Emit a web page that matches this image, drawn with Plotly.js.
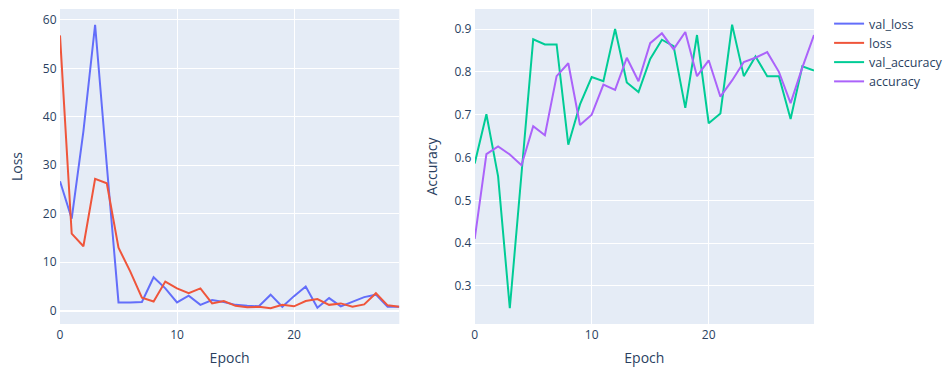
<!DOCTYPE html>
<html>
<head>
<meta charset="utf-8">
<script src="https://cdn.plot.ly/plotly-3.0.1.min.js"></script>
<style>html,body{margin:0;padding:0;background:#fff;}#chart{width:946px;height:367px;}</style>
</head>
<body>
<div id="chart"></div>
<script>
const epochs = Array.from({length: 30}, (_, i) => i);
const valLoss = [26.7, 19.0, 37, 59.0, 30, 1.7, 1.7, 1.8, 6.9, 4.6, 1.7, 3.1, 1.2, 2.2, 1.8, 1.2, 1.0, 0.9, 3.3, 0.8, 3.0, 5.0, 0.6, 2.6, 0.9, 1.8, 2.8, 3.3, 0.8, 0.8];
const loss = [56.8, 15.9, 13.3, 27.2, 26.3, 13.0, 8.1, 2.7, 1.9, 6.0, 4.6, 3.6, 4.6, 1.5, 2.0, 1.0, 0.7, 0.8, 0.5, 1.2, 0.9, 2.0, 2.4, 1.2, 1.5, 0.8, 1.3, 3.6, 1.1, 0.8];
const valAccuracy = [0.586, 0.701, 0.556, 0.248, 0.562, 0.876, 0.864, 0.864, 0.630, 0.724, 0.788, 0.778, 0.900, 0.775, 0.753, 0.830, 0.875, 0.860, 0.716, 0.886, 0.680, 0.703, 0.910, 0.790, 0.836, 0.790, 0.790, 0.690, 0.813, 0.803];
const accuracy = [0.410, 0.608, 0.626, 0.607, 0.582, 0.673, 0.652, 0.790, 0.820, 0.676, 0.700, 0.770, 0.758, 0.833, 0.778, 0.867, 0.890, 0.853, 0.893, 0.790, 0.827, 0.742, 0.780, 0.823, 0.833, 0.846, 0.800, 0.727, 0.810, 0.886];

const traces = [
  {x: epochs, y: valLoss, name: 'val_loss', mode: 'lines', line: {color: '#636efa', width: 2}, xaxis: 'x', yaxis: 'y'},
  {x: epochs, y: loss, name: 'loss', mode: 'lines', line: {color: '#EF553B', width: 2}, xaxis: 'x', yaxis: 'y'},
  {x: epochs, y: valAccuracy, name: 'val_accuracy', mode: 'lines', line: {color: '#00cc96', width: 2}, xaxis: 'x2', yaxis: 'y2'},
  {x: epochs, y: accuracy, name: 'accuracy', mode: 'lines', line: {color: '#ab63fa', width: 2}, xaxis: 'x2', yaxis: 'y2'}
];

const axisCommon = {gridcolor: '#ffffff', linecolor: '#ffffff', zeroline: true, zerolinecolor: '#ffffff', zerolinewidth: 2, ticks: '', automargin: false, tickfont: {color: '#2a3f5f', size: 12}};

const layout = {
  width: 946, height: 367,
  margin: {l: 60, r: 132, t: 9, b: 43, autoexpand: false},
  paper_bgcolor: '#ffffff',
  plot_bgcolor: '#E5ECF6',
  font: {family: '"Open Sans", verdana, arial, sans-serif', size: 12, color: '#2a3f5f'},
  showlegend: true,
  legend: {x: 1.02, y: 1, xanchor: 'left', yanchor: 'top', font: {size: 12.5}},
  xaxis: Object.assign({}, axisCommon, {domain: [0, 0.45], anchor: 'y', title: {text: 'Epoch', font: {size: 14}}}),
  yaxis: Object.assign({}, axisCommon, {anchor: 'x', title: {text: 'Loss', font: {size: 14}}}),
  xaxis2: Object.assign({}, axisCommon, {domain: [0.55, 1], anchor: 'y2', title: {text: 'Epoch', font: {size: 14}}}),
  yaxis2: Object.assign({}, axisCommon, {anchor: 'x2', title: {text: 'Accuracy', font: {size: 14}}})
};

Plotly.newPlot('chart', traces, layout, {displayModeBar: false, staticPlot: true});
</script>
</body>
</html>
